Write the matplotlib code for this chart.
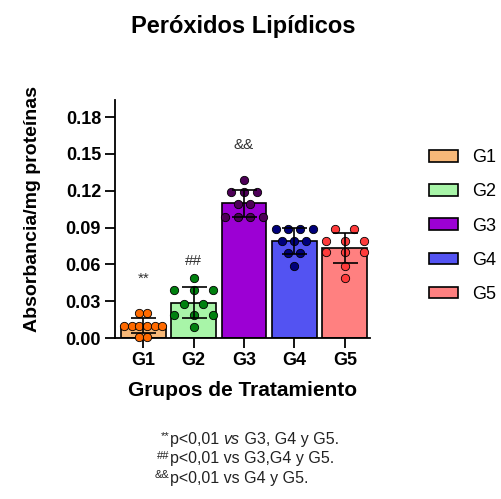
import numpy as np
import matplotlib
matplotlib.use("Agg")
import matplotlib.pyplot as plt
from matplotlib.patches import Patch

plt.rcParams['font.family'] = ['Liberation Sans', 'DejaVu Sans']

# ==========================================
# Données
# ==========================================
groupes = ['G1', 'G2', 'G3', 'G4', 'G5']
g1 = [0.020, 0.020, 0.010, 0.010, 0.010, 0.010, 0.010, 0.010, 0.001, 0.001]
g2 = [0.049, 0.039, 0.039, 0.039, 0.028, 0.028, 0.019, 0.019, 0.019, 0.009]
g3 = [0.129, 0.119, 0.119, 0.119, 0.109, 0.109, 0.099, 0.099, 0.099, 0.099]
g4 = [0.089, 0.089, 0.089, 0.089, 0.079, 0.079, 0.079, 0.069, 0.069, 0.059]
g5 = [0.089, 0.089, 0.079, 0.079, 0.079, 0.070, 0.070, 0.070, 0.059, 0.049]
valeurs = [g1, g2, g3, g4, g5]
signif = ['**', '##', '&&', '', '']
notes = [('**', 'p<0,01 ', 'vs', ' G3, G4 y G5.'),
         ('##', 'p<0,01 vs G3,G4 y G5.', '', ''),
         ('&&', 'p<0,01 vs G4 y G5.', '', '')]

# styles
couleurs_barres = ['#F7B878', '#A8F5A8', '#9C00D4', '#5353F2', '#FF8080']
couleurs_points = ['#FF6A00', '#00800F', '#4D0057', '#00007A', '#FF3B3B']
espacement_max = [0.15, 0.38, 0.25, 0.24, 0.38]
y_signif = [0.0485, 0.063, 0.157, 0, 0]
gris = '#222222'


def decalages(vals, smax):
    """Positions horizontales des points (rangées centrées par valeur)."""
    vals = np.asarray(vals)
    dx = np.zeros(len(vals))
    for v in np.unique(vals):
        idx = np.where(vals == v)[0]
        n = len(idx)
        pas = min(smax, 0.76 / (n - 1)) if n > 1 else 0
        dx[idx] = (np.arange(n) - (n - 1) / 2) * pas
    return dx


fig = plt.figure(figsize=(5.02, 4.99), dpi=100)
ax = fig.add_axes([0.229, 0.3226, 0.508, 0.477])

x = np.arange(len(groupes))
moyennes = [np.mean(v) for v in valeurs]
ecarts = [np.std(v, ddof=1) for v in valeurs]

ax.bar(x, moyennes, width=0.89, color=couleurs_barres, edgecolor='black',
       linewidth=1.2, zorder=1)
for i, v in enumerate(valeurs):
    ax.scatter(x[i] + decalages(v, espacement_max[i]), v, s=36,
               color=couleurs_points[i], edgecolor='black', linewidth=0.6,
               zorder=3, clip_on=False)
ax.errorbar(x, moyennes, yerr=ecarts, fmt='none', ecolor='black',
            elinewidth=1.2, capsize=9, capthick=1.2, zorder=4)

for i, s in enumerate(signif):
    if s:
        ax.text(x[i], y_signif[i], s, ha='center', va='center',
                fontsize=11, color='#333333')

ax.set_xlim(-0.56, 4.5)
ax.set_ylim(0, 0.194)
ticks_y = np.arange(0, 0.181, 0.03)
ax.set_yticks(ticks_y)
ax.set_yticklabels([f'{t:.2f}' for t in ticks_y])
ax.set_xticks(x)
ax.set_xticklabels(groupes)
for lab in ax.get_xticklabels() + ax.get_yticklabels():
    lab.set_fontweight('bold')
    lab.set_fontsize(13)
ax.tick_params(axis='both', length=7, width=1.3, direction='out', pad=3)
ax.spines['top'].set_visible(False)
ax.spines['right'].set_visible(False)
ax.spines['left'].set_linewidth(1.3)
ax.spines['bottom'].set_linewidth(1.3)

ax.set_xlabel('Grupos de Tratamiento', fontsize=15, fontweight='bold')
ax.xaxis.set_label_coords(0.502, -0.18)
ax.set_ylabel('Absorbancia/mg proteínas', fontsize=14, fontweight='bold')
ax.yaxis.set_label_coords(-0.29, 0.544)
fig.text(0.484, 0.934, 'Peróxidos Lipídicos', ha='center', va='baseline',
         fontsize=17, fontweight='bold')

poignees = [Patch(facecolor=c, edgecolor='black', linewidth=1.2) for c in couleurs_barres]
fig.legend(poignees, groupes, loc='upper left', bbox_to_anchor=(0.855, 0.701),
           frameon=False, fontsize=13, handlelength=1.6, handleheight=0.6,
           labelspacing=0.95, handletextpad=0.8, borderpad=0, borderaxespad=0)

# notes en bas
for k, (sup, t1, ital, t2) in enumerate(notes):
    y = 1 - (444 + k * 19.5) / 499
    a = fig.text(170 / 502, y, t1, fontsize=11.5, color=gris, va='baseline')
    ax.annotate(sup, xy=(0, 1), xycoords=a, xytext=(-0.3, 0.5),
                textcoords='offset points', ha='right', va='top',
                fontsize=8, color=gris)
    if ital:
        a = ax.annotate(ital, xy=(1, 0), xycoords=a, fontsize=11.5, color=gris,
                        style='italic', va='bottom')
        ax.annotate(t2, xy=(1, 0), xycoords=a, fontsize=11.5, color=gris,
                    va='bottom')

fig.savefig('out.png', dpi=100)
plt.close('all')
